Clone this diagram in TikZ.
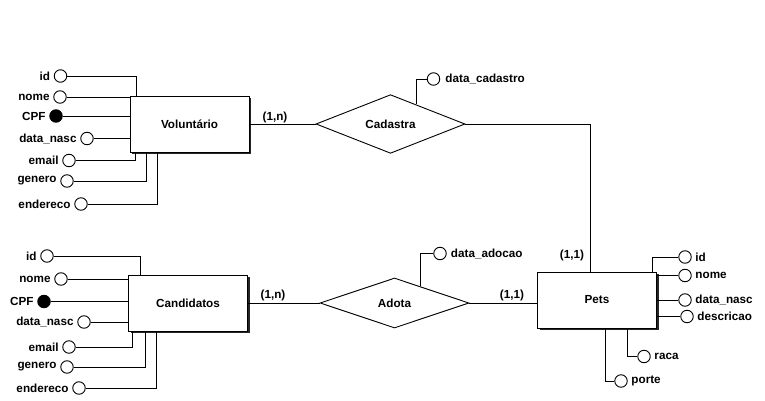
\documentclass[tikz,border=0pt]{standalone}
\usepackage{fontspec}
\setmainfont{Liberation Sans}
\usetikzlibrary{shapes.geometric,shadows,calc}

\begin{document}
\begin{tikzpicture}[x=1pt,y=-1pt, line width=0.9pt,
  every node/.style={font=\fontsize{11.7}{13}\selectfont\bfseries},
  entidade/.style={draw, fill=white, minimum width=119pt, minimum height=56pt,
    drop shadow={shadow xshift=2pt, shadow yshift=-2pt, fill=black!85, opacity=1}},
  relac/.style={draw, diamond, fill=white, minimum width=149pt, minimum height=50pt, inner sep=0pt},
  atrib/.style={draw, circle, fill=white, minimum size=12.5pt, inner sep=0pt, label distance=0.5pt},
  chave/.style={atrib, fill=black}]
\useasboundingbox (0,0) rectangle (765,401);

% entidades e relacionamentos
\node[entidade] (vol) at (189.5,124) {Voluntário};
\node[entidade] (cand) at (188,303) {Candidatos};
\node[entidade] (pets) at (597,300) {Pets};
\node[relac] (cad) at (390.5,124) {Cadastra};
\node[relac] (ado) at (394.5,303) {Adota};

% atributos de Voluntario
\node[atrib, label=left:id] (vid) at (60.5,76) {};
\node[atrib, label=left:nome] (vnome) at (60,97) {};
\node[chave, label=left:CPF] (vcpf) at (56,116) {};
\node[atrib, label=left:data\_nasc] (vnasc) at (87,138.5) {};
\node[atrib, label=left:email] (vemail) at (69,160.5) {};
\node[atrib, label=left:genero] (vgen) at (67,181) {};
\node[atrib, label=left:endereco] (vend) at (81,204) {};
\draw (vid) -| ([xshift=7pt]vol.north west);
\draw (vnome) -- (vnome -| vol.west);
\draw (vcpf) -- (vcpf -| vol.west);
\draw (vnasc) -- (vnasc -| vol.west);
\draw (vemail) -| ([xshift=6pt]vol.south west);
\draw (vgen) -| ([xshift=17pt]vol.south west);
\draw (vend) -| ([xshift=28pt]vol.south west);

% atributos de Candidatos
\node[atrib, label=left:id] (cid) at (47,256) {};
\node[atrib, label=left:nome] (cnome) at (61,279) {};
\node[chave, label=left:CPF] (ccpf) at (44,301.5) {};
\node[atrib, label=left:data\_nasc] (cnasc) at (84,322) {};
\node[atrib, label=left:email] (cemail) at (69,347) {};
\node[atrib, label=left:genero] (cgen) at (67,367) {};
\node[atrib, label=left:endereco] (cend) at (79,388) {};
\draw (cid) -| ([xshift=12pt]cand.north west);
\draw (cnome) -- (cnome -| cand.west);
\draw (ccpf) -- (ccpf -| cand.west);
\draw (cnasc) -- (cnasc -| cand.west);
\draw (cemail) -| ([xshift=4pt]cand.south west);
\draw (cgen) -| ([xshift=17pt]cand.south west);
\draw (cend) -| ([xshift=28pt]cand.south west);

% atributos de Pets
\node[atrib, label=right:id] (pid) at (685,257) {};
\node[atrib, label=right:nome] (pnome) at (685,275.5) {};
\node[atrib, label=right:data\_nasc] (pnasc) at (685,300) {};
\node[atrib, label=right:descricao] (pdesc) at (687,316.5) {};
\node[atrib, label=right:raca] (praca) at (644,356.5) {};
\node[atrib, label=right:porte] (pporte) at (621,381) {};
\draw (pid) -| ([xshift=-5pt]pets.north east);
\draw (pnome) -- (pnome -| pets.east);
\draw (pnasc) -- (pnasc -| pets.east);
\draw (pdesc) -- (pdesc -| pets.east);
\draw (praca) -| ([xshift=30pt]pets.south);
\draw (pporte) -| ([xshift=8pt]pets.south);

% atributos dos relacionamentos
\node[atrib, label={[label distance=1.5pt]right:data\_cadastro}] (dcad) at (433.5,79) {};
\node[atrib, label={[label distance=0.5pt]right:data\_adocao}] (dado) at (440,253.5) {};
\draw (dcad) -| ($(cad.north)!0.34!(cad.east)$);
\draw (dado) -| ($(ado.north)!0.34!(ado.east)$);

% ligacoes
\draw (vol.east) -- (cad.west);
\draw (cad.east) -| ([xshift=-7pt]pets.north);
\draw (cand.east) -- (ado.west);
\draw (ado.east) -- (ado.east -| pets.west);

% cardinalidades
\node (card1) at (275,117) {(1,n)};
\node (card2) at (273,295) {(1,n)};
\node (card3) at (512,295) {(1,1)};
\node (card4) at (572,255) {(1,1)};

\end{tikzpicture}
\end{document}
